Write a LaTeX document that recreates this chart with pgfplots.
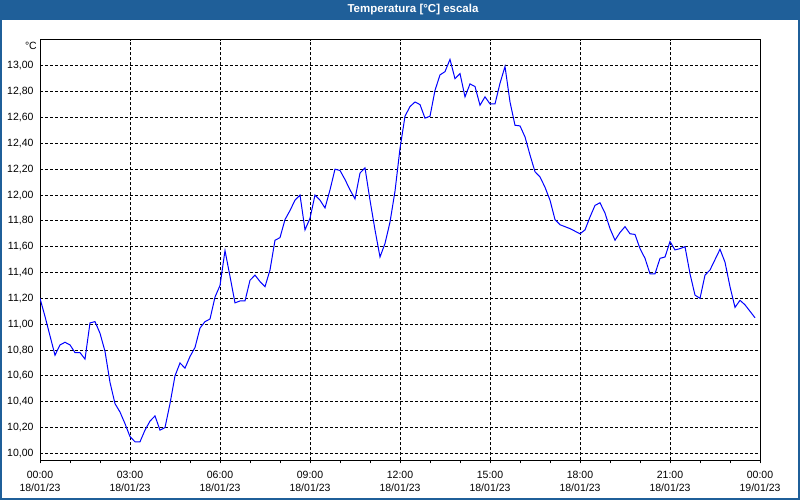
\documentclass[border=0pt]{standalone}
\usepackage{pgfplots}
\pgfplotsset{compat=1.18}
\usepackage{pgfplotstable}
\usepackage{fontspec}
\setmainfont{Liberation Sans}
\definecolor{barblue}{RGB}{31,95,153}
\definecolor{lineblue}{RGB}{0,0,255}

% temperature every 10 minutes, 18/01/23
\pgfplotstableread{
min temp
0 11.20
10 11.06
20 10.91
30 10.76
40 10.84
50 10.86
60 10.84
70 10.78
80 10.78
90 10.73
100 11.01
110 11.02
120 10.93
130 10.79
140 10.55
150 10.385
160 10.32
170 10.23
180 10.13
190 10.09
200 10.09
210 10.18
220 10.25
230 10.29
240 10.18
250 10.20
260 10.385
270 10.60
280 10.70
290 10.66
300 10.75
310 10.82
320 10.97
330 11.02
340 11.04
350 11.21
360 11.30
370 11.57
380 11.37
390 11.165
400 11.18
410 11.18
420 11.34
430 11.38
440 11.33
450 11.29
460 11.42
470 11.65
480 11.67
490 11.81
500 11.88
510 11.96
520 12.00
530 11.73
540 11.82
550 12.00
560 11.96
570 11.90
580 12.04
590 12.20
600 12.19
610 12.12
620 12.04
630 11.97
640 12.17
650 12.21
660 11.96
670 11.73
680 11.52
690 11.625
700 11.79
710 12.03
720 12.36
730 12.61
740 12.685
750 12.72
760 12.70
770 12.595
780 12.61
790 12.81
800 12.93
810 12.955
820 13.05
830 12.90
840 12.94
850 12.76
860 12.86
870 12.84
880 12.695
890 12.76
900 12.705
910 12.705
920 12.865
930 12.995
940 12.72
950 12.54
960 12.535
970 12.45
980 12.31
990 12.18
1000 12.14
1010 12.06
1020 11.96
1030 11.81
1040 11.77
1050 11.755
1060 11.74
1070 11.72
1080 11.70
1090 11.73
1100 11.83
1110 11.92
1120 11.94
1130 11.86
1140 11.74
1150 11.65
1160 11.71
1170 11.755
1180 11.70
1190 11.695
1200 11.585
1210 11.51
1220 11.39
1230 11.39
1240 11.51
1250 11.52
1260 11.64
1270 11.575
1280 11.585
1290 11.60
1300 11.39
1310 11.225
1320 11.20
1330 11.38
1340 11.42
1350 11.50
1360 11.58
1370 11.48
1380 11.29
1390 11.13
1400 11.185
1410 11.15
1420 11.10
1430 11.05
}\temptable

\begin{document}
\begin{tikzpicture}
  \path[use as bounding box] (0,0) rectangle (800pt,500pt);
  \fill[white] (0,0) rectangle (800pt,500pt);
  \fill[barblue] (0,479.5pt) rectangle (800pt,500pt);
  \draw[barblue, line width=2pt] (1pt,1pt) rectangle (799pt,499pt);
  \node[white, font=\fontsize{11.5}{13}\selectfont\bfseries] at (413pt,490pt) {Temperatura [°C] escala};

  \begin{axis}[
    at={(40pt,39.5pt)}, anchor=south west,
    width=720pt, height=420.5pt, scale only axis,
    xmin=0, xmax=1440,
    ymin=9.945, ymax=13.2,
    axis line style={black, line width=1pt},
    xtick={0,180,...,1440},
    minor x tick num=2,
    xticklabels={{00:00\\18/01/23},{03:00\\18/01/23},{06:00\\18/01/23},{09:00\\18/01/23},{12:00\\18/01/23},{15:00\\18/01/23},{18:00\\18/01/23},{21:00\\18/01/23},{00:00\\19/01/23}},
    ytick={10,10.2,10.4,10.6,10.8,11,11.2,11.4,11.6,11.8,12,12.2,12.4,12.6,12.8,13},
    yticklabel style={/pgf/number format/.cd, fixed, fixed zerofill, precision=2, use comma, assume math mode=true},
    tick label style={font=\fontsize{10.5}{13.5}\selectfont, text=black},
    xticklabel style={align=center, yshift=-4pt},
    tick align=outside,
    major tick length=3pt, minor tick length=3pt,
    xtick pos=bottom,
    ytick style={draw=none},
    tick style={black, line width=1pt},
    xmajorgrids, ymajorgrids,
    major grid style={black, line width=1pt, dash pattern=on 3pt off 2pt},
  ]
    \addplot[lineblue, line width=1pt, mark=none] table[x=min, y=temp] {\temptable};
  \end{axis}
  \node[anchor=east, inner sep=0pt, font=\fontsize{10.5}{12}\selectfont] at (37pt,454pt) {°C};
\end{tikzpicture}
\end{document}
